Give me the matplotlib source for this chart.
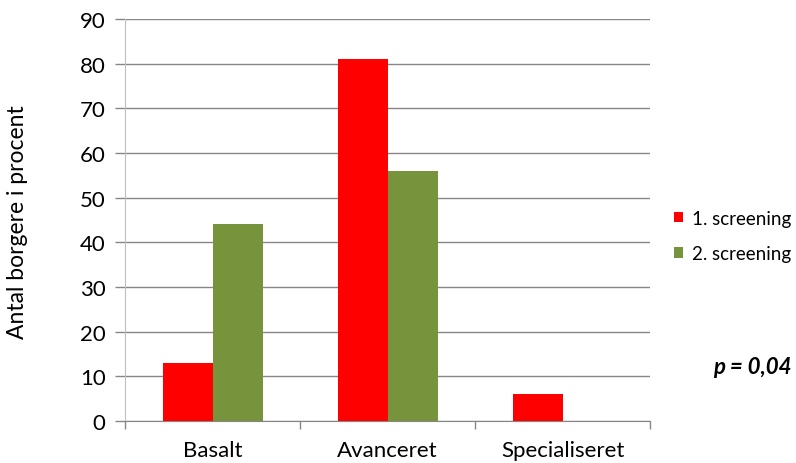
import matplotlib
matplotlib.use("Agg")
import matplotlib.pyplot as plt
import numpy as np

categories = ["Basalt", "Avanceret", "Specialiseret"]
series_names = ["1. screening", "2. screening"]
screening1 = [13, 81, 6]
screening2 = [44, 56, 0]
yticks = [0, 10, 20, 30, 40, 50, 60, 70, 80, 90]

plt.rcParams['font.family'] = ['Lato', 'DejaVu Sans']

fig = plt.figure(figsize=(7.96, 4.64), dpi=100)
ax = fig.add_axes([125/796, 1-422/464, (650-125)/796, (422-20)/464])

x = np.arange(len(categories))
w = 50/175
ax.bar(x - w/2, screening1, width=w, color="#FF0000", label=series_names[0], zorder=3)
ax.bar(x + w/2, screening2, width=w, color="#77933C", label=series_names[1], zorder=3)

ax.set_xlim(-0.5, len(categories) - 0.5)
ax.set_ylim(0, 90)
ax.set_yticks(yticks)
ax.set_yticklabels([str(t) for t in yticks], fontsize=16)
ax.yaxis.grid(True, color="#868686", linewidth=1, zorder=0)
ax.set_axisbelow(True)

ax.set_xticks(x)
ax.set_xticklabels(categories, fontsize=16)
ax.set_xticks(np.arange(-0.5, len(categories)), minor=True)
ax.tick_params(axis='x', which='major', length=0, pad=14)
ax.tick_params(axis='x', which='minor', length=6, color="#868686", width=1)
ax.tick_params(axis='y', length=7, color="#868686", width=1, pad=7)

for s in ["top", "right"]:
    ax.spines[s].set_visible(False)
ax.spines["left"].set_color("#BFBFBF")
ax.spines["bottom"].set_color("#868686")

fig.text(18/796, 1-222/464, "Antal borgere i procent", fontsize=16.5, rotation=90,
         ha="center", va="center")

leg = fig.legend(loc="center left", bbox_to_anchor=(674/796, 1-237/464), frameon=False,
                 fontsize=13.5, handlelength=0.5, handleheight=0.5, handletextpad=0.45,
                 labelspacing=1.0, borderpad=0, borderaxespad=0)

fig.text(792/796, 1-368/464, "p = 0,04", fontsize=16, fontweight="bold",
         fontstyle="italic", ha="right", va="center")

fig.savefig("out.png", dpi=100)
